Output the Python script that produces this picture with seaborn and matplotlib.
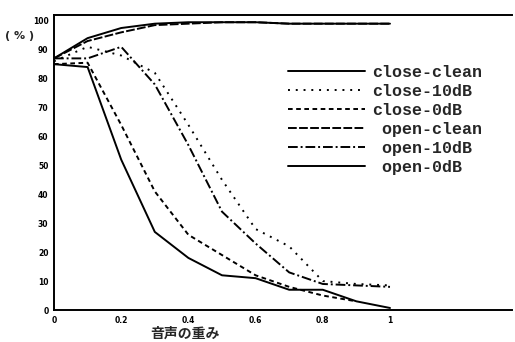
import numpy as np
import pandas as pd
import matplotlib
matplotlib.use("Agg")
import matplotlib.pyplot as plt
import seaborn as sns

# ---- data ----
weights = [0.0, 0.1, 0.2, 0.3, 0.4, 0.5, 0.6, 0.7, 0.8, 0.9, 1.0]
close_clean = [87, 94, 97.5, 99, 99.5, 99.5, 99.5, 99, 99, 99, 99]
close_10dB = [86, 91, 88, 82, 64, 45, 28, 22, 10, 9, 8.5]
close_0dB = [85, 85.5, 64, 41, 26, 19, 12, 8, 5, 3]
open_clean = [87, 93, 96, 98.5, 99, 99.5, 99.5, 99, 99, 99, 99]
open_10dB = [87, 87, 91, 78, 57, 34, 23, 13, 9, 8.5, 8]
open_0dB = [85, 84, 52, 27, 18, 12, 11, 7, 7, 3, 0.7]

series_names = ["close-clean", "close-10dB", "close-0dB",
                "open-clean", "open-10dB", "open-0dB"]
legend_labels = ["close-clean", "close-10dB", "close-0dB",
                 " open-clean", " open-10dB", " open-0dB"]
series_vals = [close_clean, close_10dB, close_0dB,
               open_clean, open_10dB, open_0dB]

x_ticks = [0, 0.2, 0.4, 0.6, 0.8, 1.0]
x_ticklabels = ["0", "0.2", "0.4", "0.6", "0.8", "1"]
y_ticks = list(range(0, 101, 10))
xlabel = "音声の重み"
ylabel = "( % )"

rows = []
for name, vals in zip(series_names, series_vals):
    for xv, yv in zip(weights, vals):
        rows.append({"w": xv, "acc": yv, "cond": name})
df = pd.DataFrame(rows)

sns.set_theme(style="white")
plt.rcParams["font.family"] = ["DejaVu Sans", "Noto Sans CJK JP"]

fig = plt.figure(figsize=(5.15, 3.42), dpi=100)
ax = fig.add_axes([54 / 515, 32 / 342, 458 / 515, 295 / 342])

dash_map = {
    "close-clean": "",
    "close-10dB": (1, 3),
    "close-0dB": (2.4, 1.8),
    "open-clean": (4.5, 1.2),
    "open-10dB": (5, 1.5, 1, 1.5),
    "open-0dB": "",
}
palette = {n: "black" for n in series_names}

sns.lineplot(data=df, x="w", y="acc", hue="cond", style="cond",
             hue_order=series_names, style_order=series_names,
             palette=palette, dashes=dash_map, linewidth=1.4,
             ax=ax, legend=False, estimator=None)

ax.set_xlim(0, 458 / 336)
ax.set_ylim(0, 102)
ax.set_xticks(x_ticks)
ax.set_xticklabels(x_ticklabels)
ax.set_yticks(y_ticks)
ax.tick_params(axis="both", direction="in", length=4, width=1.2,
               labelsize=5.5, colors="black", pad=4)
for lab in ax.get_xticklabels() + ax.get_yticklabels():
    lab.set_fontweight("bold")

for side in ["left", "top", "bottom"]:
    ax.spines[side].set_visible(True)
    ax.spines[side].set_color("black")
    ax.spines[side].set_linewidth(1.4)
ax.spines["right"].set_visible(False)
ax.set_ylabel("")
ax.set_xlabel(xlabel, fontsize=10, fontweight="bold",
              family=["Noto Sans CJK JP", "DejaVu Sans"])
ax.xaxis.set_label_coords((185 - 54) / 458, -0.055)

fig.text(20 / 515, 1 - 36 / 342, ylabel, fontsize=8, fontweight="bold",
         ha="center", va="center")

handles = ax.get_lines()[:len(series_names)]
leg = ax.legend(handles, legend_labels, loc="upper left",
                bbox_to_anchor=((288 - 54) / 458, 1 - (65 - 15) / 295),
                frameon=False, handlelength=4.6, handletextpad=0.45,
                labelspacing=0.24, borderpad=0, borderaxespad=0,
                prop={"family": "Liberation Mono", "weight": "bold", "size": 12})

fig.savefig("out.png", dpi=100, facecolor="white")
